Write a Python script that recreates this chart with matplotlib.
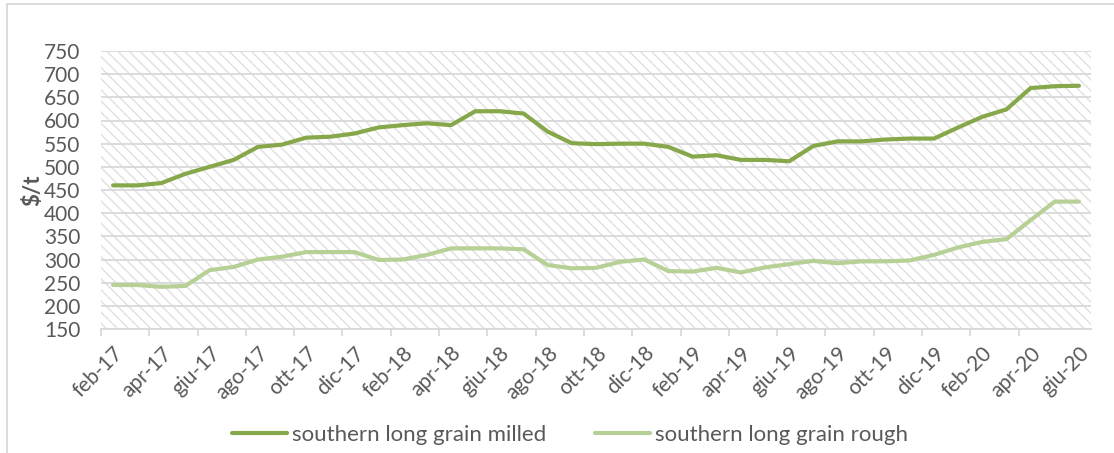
import matplotlib
matplotlib.use('Agg')
import matplotlib.pyplot as plt
from matplotlib.patches import Rectangle

plt.rcParams['font.family'] = ['Lato', 'DejaVu Sans']
plt.rcParams['hatch.color'] = '#e0e0e0'
plt.rcParams['hatch.linewidth'] = 1.0

# feb-17 .. giu-20, one label every two months
tick_labels = ['feb-17', 'apr-17', 'giu-17', 'ago-17', 'ott-17', 'dic-17',
               'feb-18', 'apr-18', 'giu-18', 'ago-18', 'ott-18', 'dic-18',
               'feb-19', 'apr-19', 'giu-19', 'ago-19', 'ott-19', 'dic-19',
               'feb-20', 'apr-20', 'giu-20']

milled = [460, 460, 465, 485, 500, 515, 543, 548, 563, 565, 572, 585,
          590, 594, 590, 620, 620, 615, 576, 551, 549, 550, 550, 543,
          522, 525, 515, 515, 512, 545, 555, 555, 559, 561, 561, 585,
          608, 624, 670, 674, 675]
rough = [245, 245, 241, 243, 277, 284, 300, 306, 316, 316, 316, 299,
         300, 310, 324, 324, 324, 322, 288, 281, 282, 295, 300, 275,
         274, 282, 272, 283, 290, 297, 292, 296, 296, 298, 310, 326,
         338, 344, 385, 425, 425]

x = list(range(len(milled)))
text_col = '#595959'
grid_col = '#d9d9d9'

fig = plt.figure(figsize=(11.14, 4.53), dpi=100)
ax = fig.add_axes([101 / 1114, 1 - 329 / 453, 990 / 1114, 278 / 453])

# hatched plot area
ax.add_patch(Rectangle((0, 0), 1, 1, transform=ax.transAxes, facecolor='white',
                       edgecolor='#e0e0e0', hatch='\\\\\\', linewidth=0, zorder=0))

ax.plot(x, milled, color='#86a84b', lw=3, label='southern long grain milled', zorder=3,
        solid_capstyle='round')
ax.plot(x, rough, color='#b7d096', lw=3, label='southern long grain rough', zorder=3,
        solid_capstyle='round')

ax.set_xlim(-0.5, len(x) - 0.5)
ax.set_ylim(150, 750)
ax.set_yticks(range(150, 751, 50))
ax.yaxis.grid(True, color=grid_col, lw=1.3)
ax.set_axisbelow(True)
ax.tick_params(axis='y', length=0, labelsize=15, colors=text_col, pad=15)

# category boundaries as tick marks, labels centred on categories
ax.set_xticks([i - 0.5 for i in range(0, len(x) - 1, 2)])
ax.set_xticklabels([])
ax.set_xticks(range(0, len(x), 2), minor=True)
ax.set_xticklabels(tick_labels, minor=True, rotation=45, ha='right', va='top',
                   rotation_mode='anchor')
ax.tick_params(axis='x', which='major', length=5, width=1.3, color=grid_col)
ax.tick_params(axis='x', which='minor', length=0, labelsize=15, colors=text_col, pad=10)

for s in ['top', 'right', 'left']:
    ax.spines[s].set_visible(False)
ax.spines['bottom'].set_color(grid_col)
ax.spines['bottom'].set_linewidth(1.3)

ax.set_ylabel('$/t', fontsize=16, fontweight='bold', color=text_col, labelpad=0)

fig.legend(loc='center', bbox_to_anchor=(0.512, 1 - 435 / 453), ncol=2, frameon=False,
           fontsize=16, handlelength=2.45, handletextpad=0.25, columnspacing=2.2,
           labelcolor=text_col)

# chart frame
fig.patches.append(Rectangle((7 / 1114, -0.1), 1.2, 1 - 4 / 453 + 0.1,
                             transform=fig.transFigure, fill=False,
                             edgecolor=grid_col, lw=1.3))

fig.savefig('out.png', dpi=100)
